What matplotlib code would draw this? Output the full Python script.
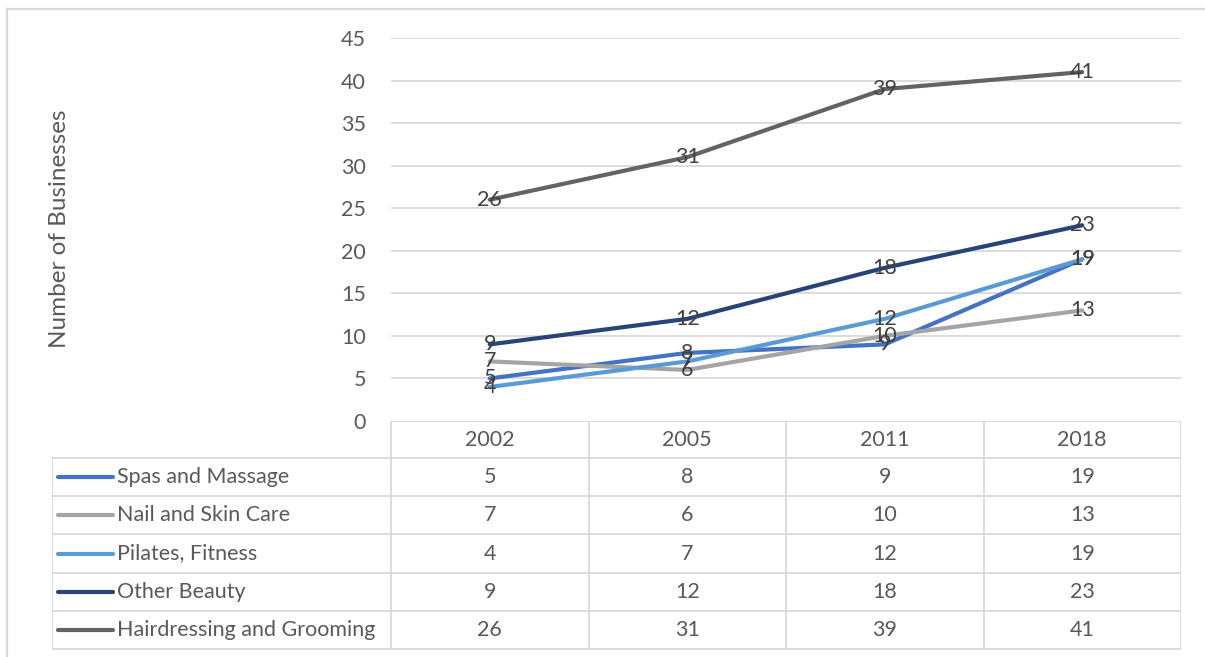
## line chart of business counts with a data table underneath ##

import matplotlib
matplotlib.use('Agg')
import matplotlib.pyplot as plt
from matplotlib.lines import Line2D

years = ['2002', '2005', '2011', '2018']
series = ['Spas and Massage', 'Nail and Skin Care', 'Pilates, Fitness',
          'Other Beauty', 'Hairdressing and Grooming']
spas = [5, 8, 9, 19]
nail = [7, 6, 10, 13]
pilates = [4, 7, 12, 19]
other = [9, 12, 18, 23]
hair = [26, 31, 39, 41]
yticks = [0, 5, 10, 15, 20, 25, 30, 35, 40, 45]

values = [spas, nail, pilates, other, hair]
colors = ['#4472C4', '#A5A5A5', '#5B9BD5', '#264478', '#636363']

plt.rcParams['font.family'] = ['Lato', 'DejaVu Sans']
W, H = 1205, 657
fig = plt.figure(figsize=(W / 100, H / 100), dpi=100)

def fx(px):
    return px / W

def fy(py):
    return 1 - py / H

grid_col = '#D9D9D9'
txt_col = '#595959'
fs = 15.5

# outer chart border, only left and top fall inside the image
fig.add_artist(Line2D([fx(7), fx(7)], [fy(9), 0], transform=fig.transFigure,
                      color=grid_col, linewidth=1.6))
fig.add_artist(Line2D([fx(7), 1], [fy(9), fy(9)], transform=fig.transFigure,
                      color=grid_col, linewidth=1.6))

## plot area ##
left, right, top, bottom = 391, 1181, 38, 421
ax = fig.add_axes([fx(left), fy(bottom), fx(right - left), fy(top) - fy(bottom)])
ax.set_xlim(0, len(years))
ax.set_ylim(0, 45)
for s in ax.spines.values():
    s.set_visible(False)
ax.set_xticks([])
ax.set_yticks(yticks)
ax.tick_params(axis='y', length=0, pad=18, labelsize=fs, labelcolor=txt_col)
for t in yticks[1:]:
    ax.axhline(t, color=grid_col, linewidth=1.3, zorder=0)

xs = [i + 0.5 for i in range(len(years))]
for vals, c in zip(values, colors):
    ax.plot(xs, vals, color=c, linewidth=3, solid_capstyle='round', zorder=2)
for vals in values:
    for x, v in zip(xs, vals):
        ax.text(x, v, str(v), ha='center', va='center', fontsize=fs,
                color='#404040', zorder=3)

fig.text(fx(59), fy(229), 'Number of Businesses', rotation=90, ha='center',
         va='center', fontsize=17.5, color=txt_col)

## data table ##
tab_left, tab_bottom = 52, 650
row_h = 38.2
tx = fig.add_axes([fx(tab_left), fy(tab_bottom), fx(right - tab_left),
                   fy(bottom) - fy(tab_bottom)])
tx.set_xlim(tab_left, right)
tx.set_ylim(tab_bottom, bottom)
tx.axis('off')

band = (right - left) / len(years)
header_bottom = bottom + 37
lw = 1.3
# horizontal rules
tx.plot([left, right], [bottom, bottom], color=grid_col, lw=lw)
for k in range(len(series) + 1):
    yy = header_bottom + k * row_h
    tx.plot([tab_left, right], [yy, yy], color=grid_col, lw=lw)
# vertical rules
tx.plot([tab_left, tab_left], [header_bottom, tab_bottom], color=grid_col, lw=lw)
for j in range(len(years) + 1):
    xx = left + j * band
    tx.plot([xx, xx], [bottom, tab_bottom], color=grid_col, lw=lw)

for j, yr in enumerate(years):
    tx.text(left + (j + 0.5) * band, (bottom + header_bottom) / 2, yr,
            ha='center', va='center', fontsize=fs, color=txt_col)

for k, (name, vals, c) in enumerate(zip(series, values, colors)):
    yc = header_bottom + (k + 0.5) * row_h
    tx.add_line(Line2D([58, 113], [yc, yc], color=c, linewidth=3,
                       solid_capstyle='round'))
    tx.text(117, yc, name, ha='left', va='center', fontsize=fs, color=txt_col)
    for j, v in enumerate(vals):
        tx.text(left + (j + 0.5) * band, yc, str(v), ha='center', va='center',
                fontsize=fs, color=txt_col)

plt.savefig('out.png', dpi=100)
